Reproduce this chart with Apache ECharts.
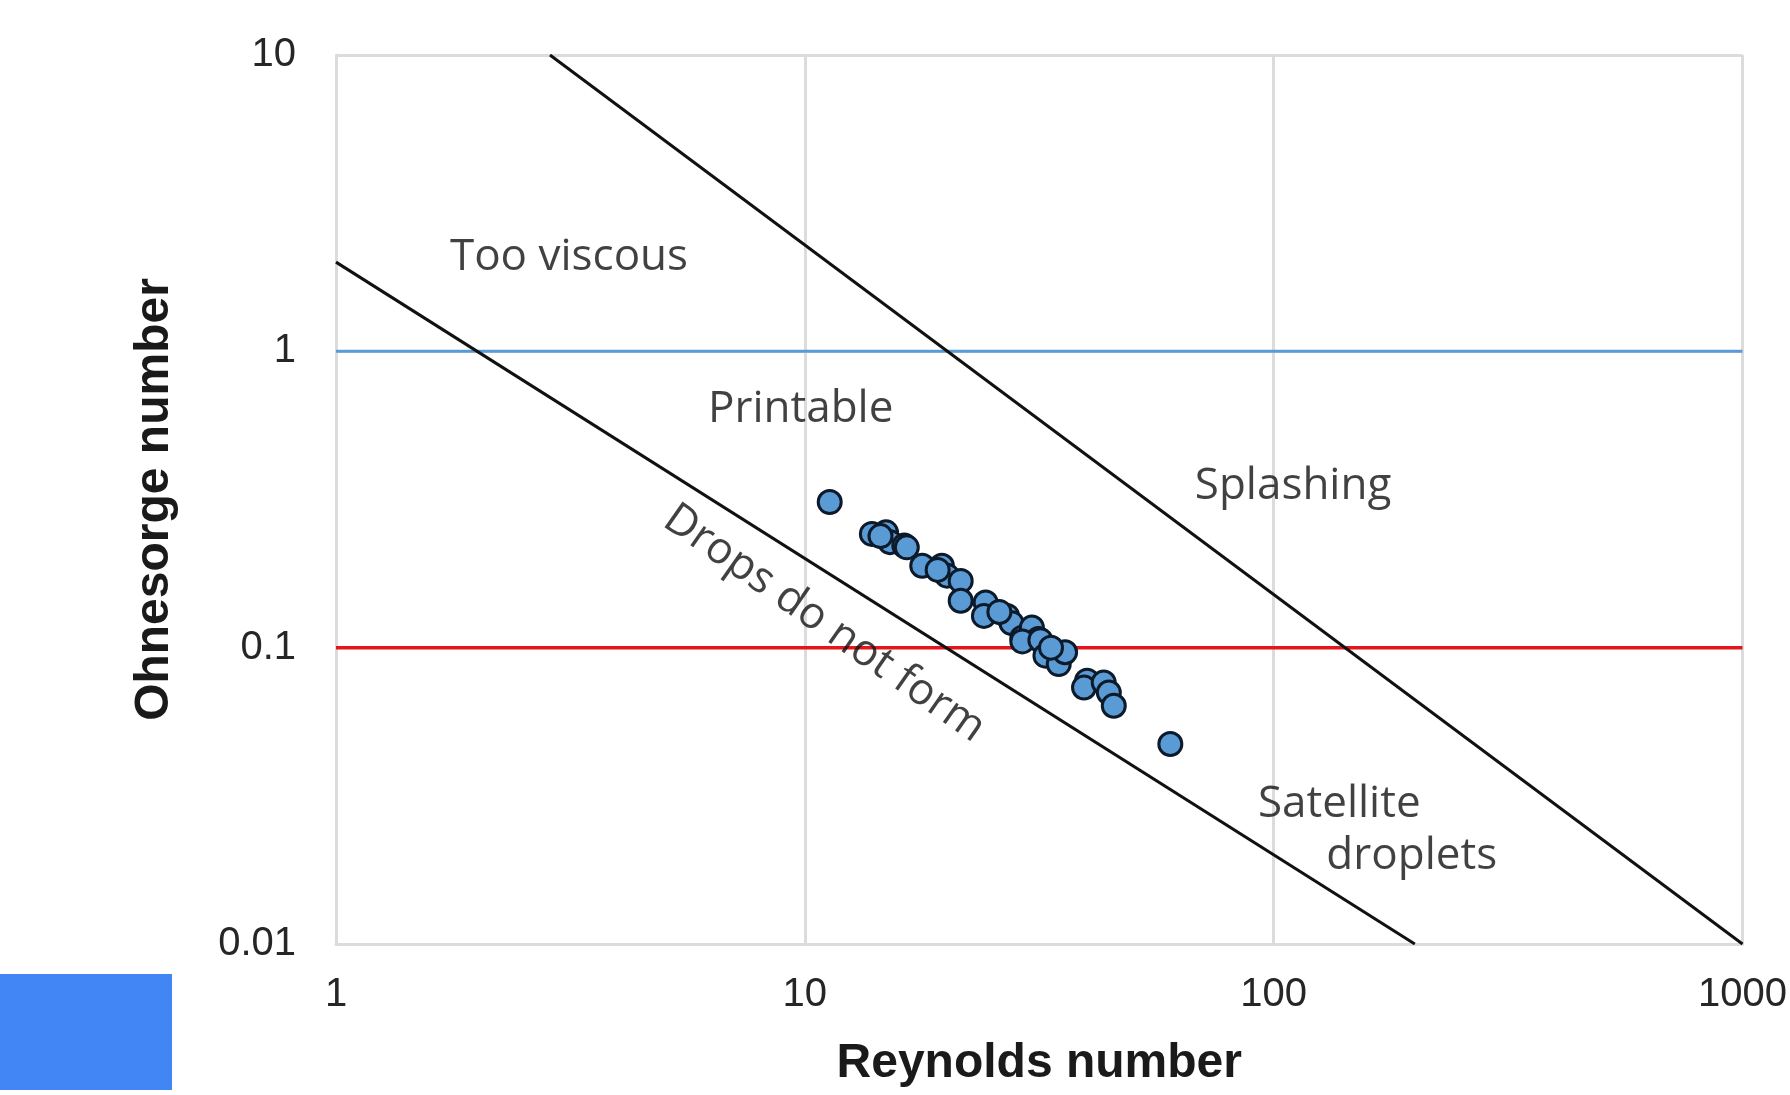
<!DOCTYPE html>
<html>
<head>
<meta charset="utf-8">
<script src="https://cdn.jsdelivr.net/npm/echarts@6/dist/echarts.min.js"></script>
<style>
  html, body { margin: 0; padding: 0; background: #fff; }
  #chart { width: 1790px; height: 1095px; }
</style>
</head>
<body>
<div id="chart"></div>
<script>
// measured points (Reynolds, Ohnesorge)
const reynolds = [11.3, 13.9, 14.9, 15.2, 16.3, 16.5, 17.8, 19.6, 20.1, 21.5, 21.5, 24.3, 24.1, 27.0, 27.6,
  29.1, 30.5, 31.5, 29.1, 31.8, 32.6, 34.8, 35.9, 40.0, 39.4, 43.4, 44.5, 45.6, 60.2, 14.5, 19.2, 26.0, 33.5];
const ohnesorge = [0.31, 0.242, 0.245, 0.227, 0.221, 0.218, 0.189, 0.189, 0.175, 0.168, 0.144, 0.142, 0.128, 0.128, 0.121,
  0.108, 0.117, 0.107, 0.105, 0.106, 0.094, 0.088, 0.0965, 0.0774, 0.0734, 0.0763, 0.0706, 0.0637, 0.0473, 0.238, 0.183, 0.132, 0.1];

// regime boundaries
const noDropsLine = [[1, 2], [200, 0.01]];
const splashLine = [[2.86, 10], [1000, 0.01]];
const upperOh = [[1, 1], [1000, 1]];
const lowerOh = [[1, 0.1], [1000, 0.1]];

// region labels
const regionNames = ['Too viscous', 'Printable', 'Splashing', 'Satellite', 'droplets', 'Drops do not form'];
const regionRe = [3.14, 9.8, 110, 138, 197, 11.0];
const regionOh = [2.08, 0.637, 0.35, 0.0295, 0.0197, 0.1205];
const regionTilt = [0, 0, 0, 0, 0, -35];

const chart = echarts.init(document.getElementById('chart'));

const gridGray = '#dcdcdc';
const axisFont = 'Liberation Sans, Arial, sans-serif';

const lineSeries = (data, color, width) => ({
  type: 'line',
  data: data,
  showSymbol: false,
  symbol: 'none',
  silent: true,
  z: 2,
  lineStyle: { color: color, width: width },
});

chart.setOption({
  animation: false,
  grid: { left: 336, right: 40, top: 55, bottom: 151 },
  xAxis: {
    type: 'log',
    logBase: 10,
    min: 1,
    max: 1000,
    name: 'Reynolds number',
    nameLocation: 'middle',
    nameGap: 96,
    nameTextStyle: { fontFamily: axisFont, fontSize: 48, fontWeight: 'bold', color: '#1a1a1a' },
    axisLine: { show: true, lineStyle: { color: gridGray, width: 3 } },
    axisTick: { show: false },
    axisLabel: { fontFamily: axisFont, fontSize: 40, color: '#262626', margin: 31, formatter: (v) => String(v) },
    splitLine: { show: true, lineStyle: { color: gridGray, width: 3 } },
  },
  yAxis: {
    type: 'log',
    logBase: 10,
    min: 0.01,
    max: 10,
    name: 'Ohnesorge number',
    nameLocation: 'middle',
    nameGap: 157,
    nameTextStyle: { fontFamily: axisFont, fontSize: 48, fontWeight: 'bold', color: '#1a1a1a' },
    axisLine: { show: true, lineStyle: { color: gridGray, width: 3 } },
    axisTick: { show: false },
    axisLabel: { fontFamily: axisFont, fontSize: 40, color: '#262626', margin: 40, formatter: (v) => String(v) },
    splitLine: { show: true, lineStyle: { color: gridGray, width: 3 } },
  },
  series: [
    lineSeries(upperOh, '#5b9bd5', 3),
    lineSeries(lowerOh, '#e3161c', 3.5),
    lineSeries(noDropsLine, '#111111', 3),
    lineSeries(splashLine, '#111111', 3),
    {
      type: 'scatter',
      z: 3,
      symbolSize: 23,
      data: reynolds.map((re, i) => [re, ohnesorge[i]]),
      itemStyle: { color: '#5b9bd5', borderColor: '#0c1a2a', borderWidth: 3, opacity: 1 },
    },
    {
      type: 'scatter',
      z: 4,
      silent: true,
      symbolSize: 0,
      data: regionNames.map((name, i) => ({
        value: [regionRe[i], regionOh[i]],
        label: {
          show: true,
          position: 'inside',
          formatter: name,
          rotate: regionTilt[i],
          fontFamily: 'Open Sans, sans-serif',
          fontSize: 44,
          color: '#111111',
          align: 'center',
          verticalAlign: 'middle',
        },
      })),
    },
  ],
  graphic: [
    {
      type: 'rect',
      left: 0,
      top: 974,
      shape: { width: 172, height: 116 },
      style: { fill: '#4285f4' },
    },
  ],
});
</script>
</body>
</html>
